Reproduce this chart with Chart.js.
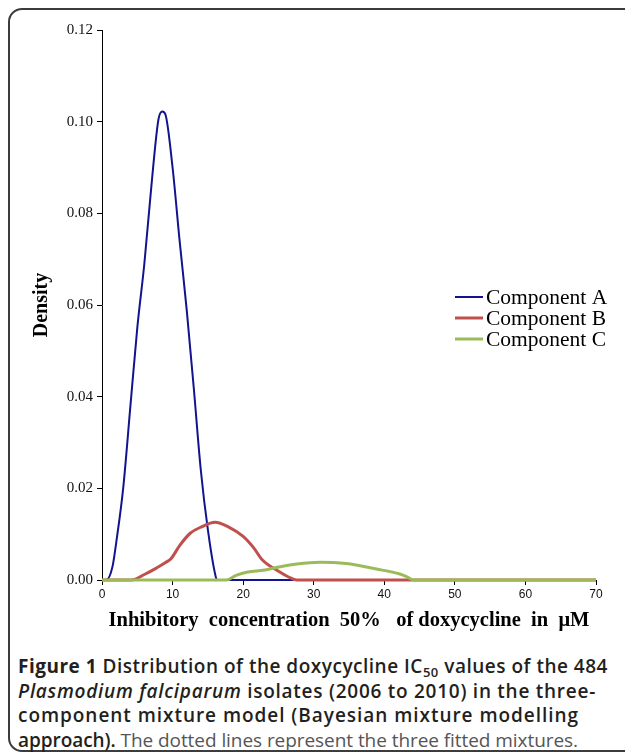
<!DOCTYPE html>
<html>
<head>
<meta charset="utf-8">
<script src="https://cdn.jsdelivr.net/npm/chart.js@4.4.1/dist/chart.umd.min.js"></script>
<style>
  html, body { margin: 0; padding: 0; background: #ffffff; }
  body { width: 625px; height: 756px; position: relative; overflow: hidden; }
  #card { position: absolute; left: 8px; top: 8px; width: 700px; height: 744px;
          border: 2px solid #3c3c3c; border-radius: 14px; box-sizing: border-box; }
  #wrap { position: absolute; left: 0; top: 0; width: 625px; height: 640px; }
  #caption { position: absolute; left: 18px; top: 654px; width: 610px;
             font-family: "Open Sans", sans-serif; font-size: 19px; line-height: 24.7px;
             color: #231f20; white-space: nowrap; }
  #caption .line { display: inline-block; }
  #caption b { font-weight: 700; }
  #caption .t { font-weight: 600; }
  #caption .n { font-weight: 400; color: #555; }
  #caption sub { font-size: 13px; vertical-align: -4px; line-height: 0; }
</style>
</head>
<body>
<div id="card"></div>
<div id="wrap"><canvas id="c" width="625" height="640"></canvas></div>
<div id="caption"><span class="line" data-w="590"><b>Figure 1</b> <span class="t">Distribution of the doxycycline IC<sub>50</sub> values of the 484</span></span><br><span class="line" data-w="578"><span class="t"><i>Plasmodium falciparum</i> isolates (2006 to 2010) in the three-</span></span><br><span class="line" data-w="561"><span class="t">component mixture model (Bayesian mixture modelling</span></span><br><span class="line" data-w="560"><span class="t">approach).</span> <span class="n">The dotted lines represent the three fitted mixtures.</span></span></div>
<script>
// ---- data ----
const seriesNames = ["Component A", "Component B", "Component C"];
const aX = [0, 0.6, 1.5, 2, 3, 4, 5, 6, 7, 8, 8.55, 9, 10, 11, 12, 13, 14, 15, 16, 16.3, 30, 50, 70];
const aY = [0, 0, 0.003, 0.008, 0.020, 0.0375, 0.055, 0.069, 0.086, 0.1005, 0.1022, 0.1015, 0.090, 0.074, 0.059, 0.042, 0.024, 0.011, 0.0015, 0, 0, 0, 0];
const bX = [0, 4.2, 6, 7.7, 9, 9.8, 11, 12.5, 14.1, 16, 17.9, 20, 21.5, 22.7, 24.9, 26.5, 27.6, 50, 70];
const bY = [0, 0, 0.0012, 0.0026, 0.0038, 0.0047, 0.0075, 0.0102, 0.0116, 0.0126, 0.0116, 0.0095, 0.007, 0.0044, 0.002, 0.0006, 0, 0, 0];
const cX = [0, 10, 17.6, 19, 20.5, 22.2, 23.8, 24.9, 27.6, 30.9, 34.6, 38.9, 42.2, 43.2, 44.2, 50, 60, 70];
const cY = [0, 0, 0, 0.001, 0.0017, 0.002, 0.0024, 0.0028, 0.0035, 0.0039, 0.0036, 0.0024, 0.0013, 0.0007, 0, 0, 0, 0];
const yTicks = [0, 0.02, 0.04, 0.06, 0.08, 0.10, 0.12];
const xTicks = [0, 10, 20, 30, 40, 50, 60, 70];

const colors = ["#13138f", "#c0504d", "#9bbb59"];
const widths = [2, 3, 3];

function pts(xs, ys) { return xs.map((x, i) => ({ x: x, y: ys[i] })); }

// fit each caption line to the width it has in the reference
function fitCaption() {
  document.querySelectorAll("#caption .line").forEach(el => {
    el.style.letterSpacing = "0px";
    const target = parseFloat(el.dataset.w);
    const w = el.getBoundingClientRect().width;
    const n = el.textContent.length;
    el.style.letterSpacing = ((target - w) / n).toFixed(3) + "px";
  });
}
if (document.fonts && document.fonts.ready) { document.fonts.ready.then(fitCaption); }
fitCaption();

const legendPlugin = {
  id: "customLegend",
  afterDraw(chart) {
    const ctx = chart.ctx;
    const a = chart.chartArea;
    const x0 = a.left + 353, x1 = a.left + 381, tx = a.left + 384;
    const ys = [a.top + 267, a.top + 288, a.top + 309];
    ctx.save();
    ctx.font = "21.5px 'Liberation Serif', 'Times New Roman', serif";
    ctx.textBaseline = "middle";
    ctx.textAlign = "left";
    for (let i = 0; i < 3; i++) {
      ctx.strokeStyle = colors[i];
      ctx.lineWidth = widths[i];
      ctx.beginPath();
      ctx.moveTo(x0, ys[i]);
      ctx.lineTo(x1, ys[i]);
      ctx.stroke();
      ctx.fillStyle = "#000";
      ctx.fillText(seriesNames[i], tx, ys[i] + 1);
    }
    ctx.restore();
  }
};

new Chart(document.getElementById("c"), {
  type: "line",
  data: {
    datasets: [0, 1, 2].map(i => ({
      label: seriesNames[i],
      data: pts([aX, bX, cX][i], [aY, bY, cY][i]),
      borderColor: colors[i],
      backgroundColor: colors[i],
      borderWidth: widths[i],
      pointRadius: 0,
      fill: false,
      cubicInterpolationMode: "monotone",
      clip: false,
      order: 2 - i
    }))
  },
  options: {
    responsive: false,
    animation: false,
    layout: { padding: { left: 0, right: 29, top: 30, bottom: 0 } },
    plugins: { legend: { display: false }, tooltip: { enabled: false } },
    scales: {
      x: {
        type: "linear", min: 0, max: 70,
        afterBuildTicks: s => { s.ticks = xTicks.map(v => ({ value: v })); },
        afterFit: s => { s.height = 60; },
        grid: { drawOnChartArea: false, drawTicks: true, tickLength: 5, color: "#000", lineWidth: 1 },
        border: { color: "#000", width: 1 },
        ticks: { color: "#111", padding: 2, maxRotation: 0,
                 font: { family: "'Liberation Sans', Arial, sans-serif", size: 12 },
                 callback: v => String(v) },
        title: { display: true, text: "Inhibitory  concentration  50%   of doxycycline  in  μM",
                 color: "#000", padding: { top: 0, bottom: 7 },
                 font: { family: "'Liberation Serif', 'Times New Roman', serif", size: 20.5, weight: "bold" } }
      },
      y: {
        type: "linear", min: 0, max: 0.12,
        afterBuildTicks: s => { s.ticks = yTicks.map(v => ({ value: v })); },
        afterFit: s => { s.width = 102; },
        grid: { drawOnChartArea: false, drawTicks: true, tickLength: 5, color: "#000", lineWidth: 1 },
        border: { color: "#000", width: 1 },
        ticks: { color: "#111", padding: 4,
                 font: { family: "'Liberation Serif', 'Times New Roman', serif", size: 15 },
                 callback: v => Number(v).toFixed(2) },
        title: { display: true, text: "Density", color: "#000", padding: { top: 30, bottom: 0 },
                 font: { family: "'Liberation Serif', 'Times New Roman', serif", size: 20, weight: "bold" } }
      }
    }
  },
  plugins: [legendPlugin]
});
</script>
</body>
</html>
